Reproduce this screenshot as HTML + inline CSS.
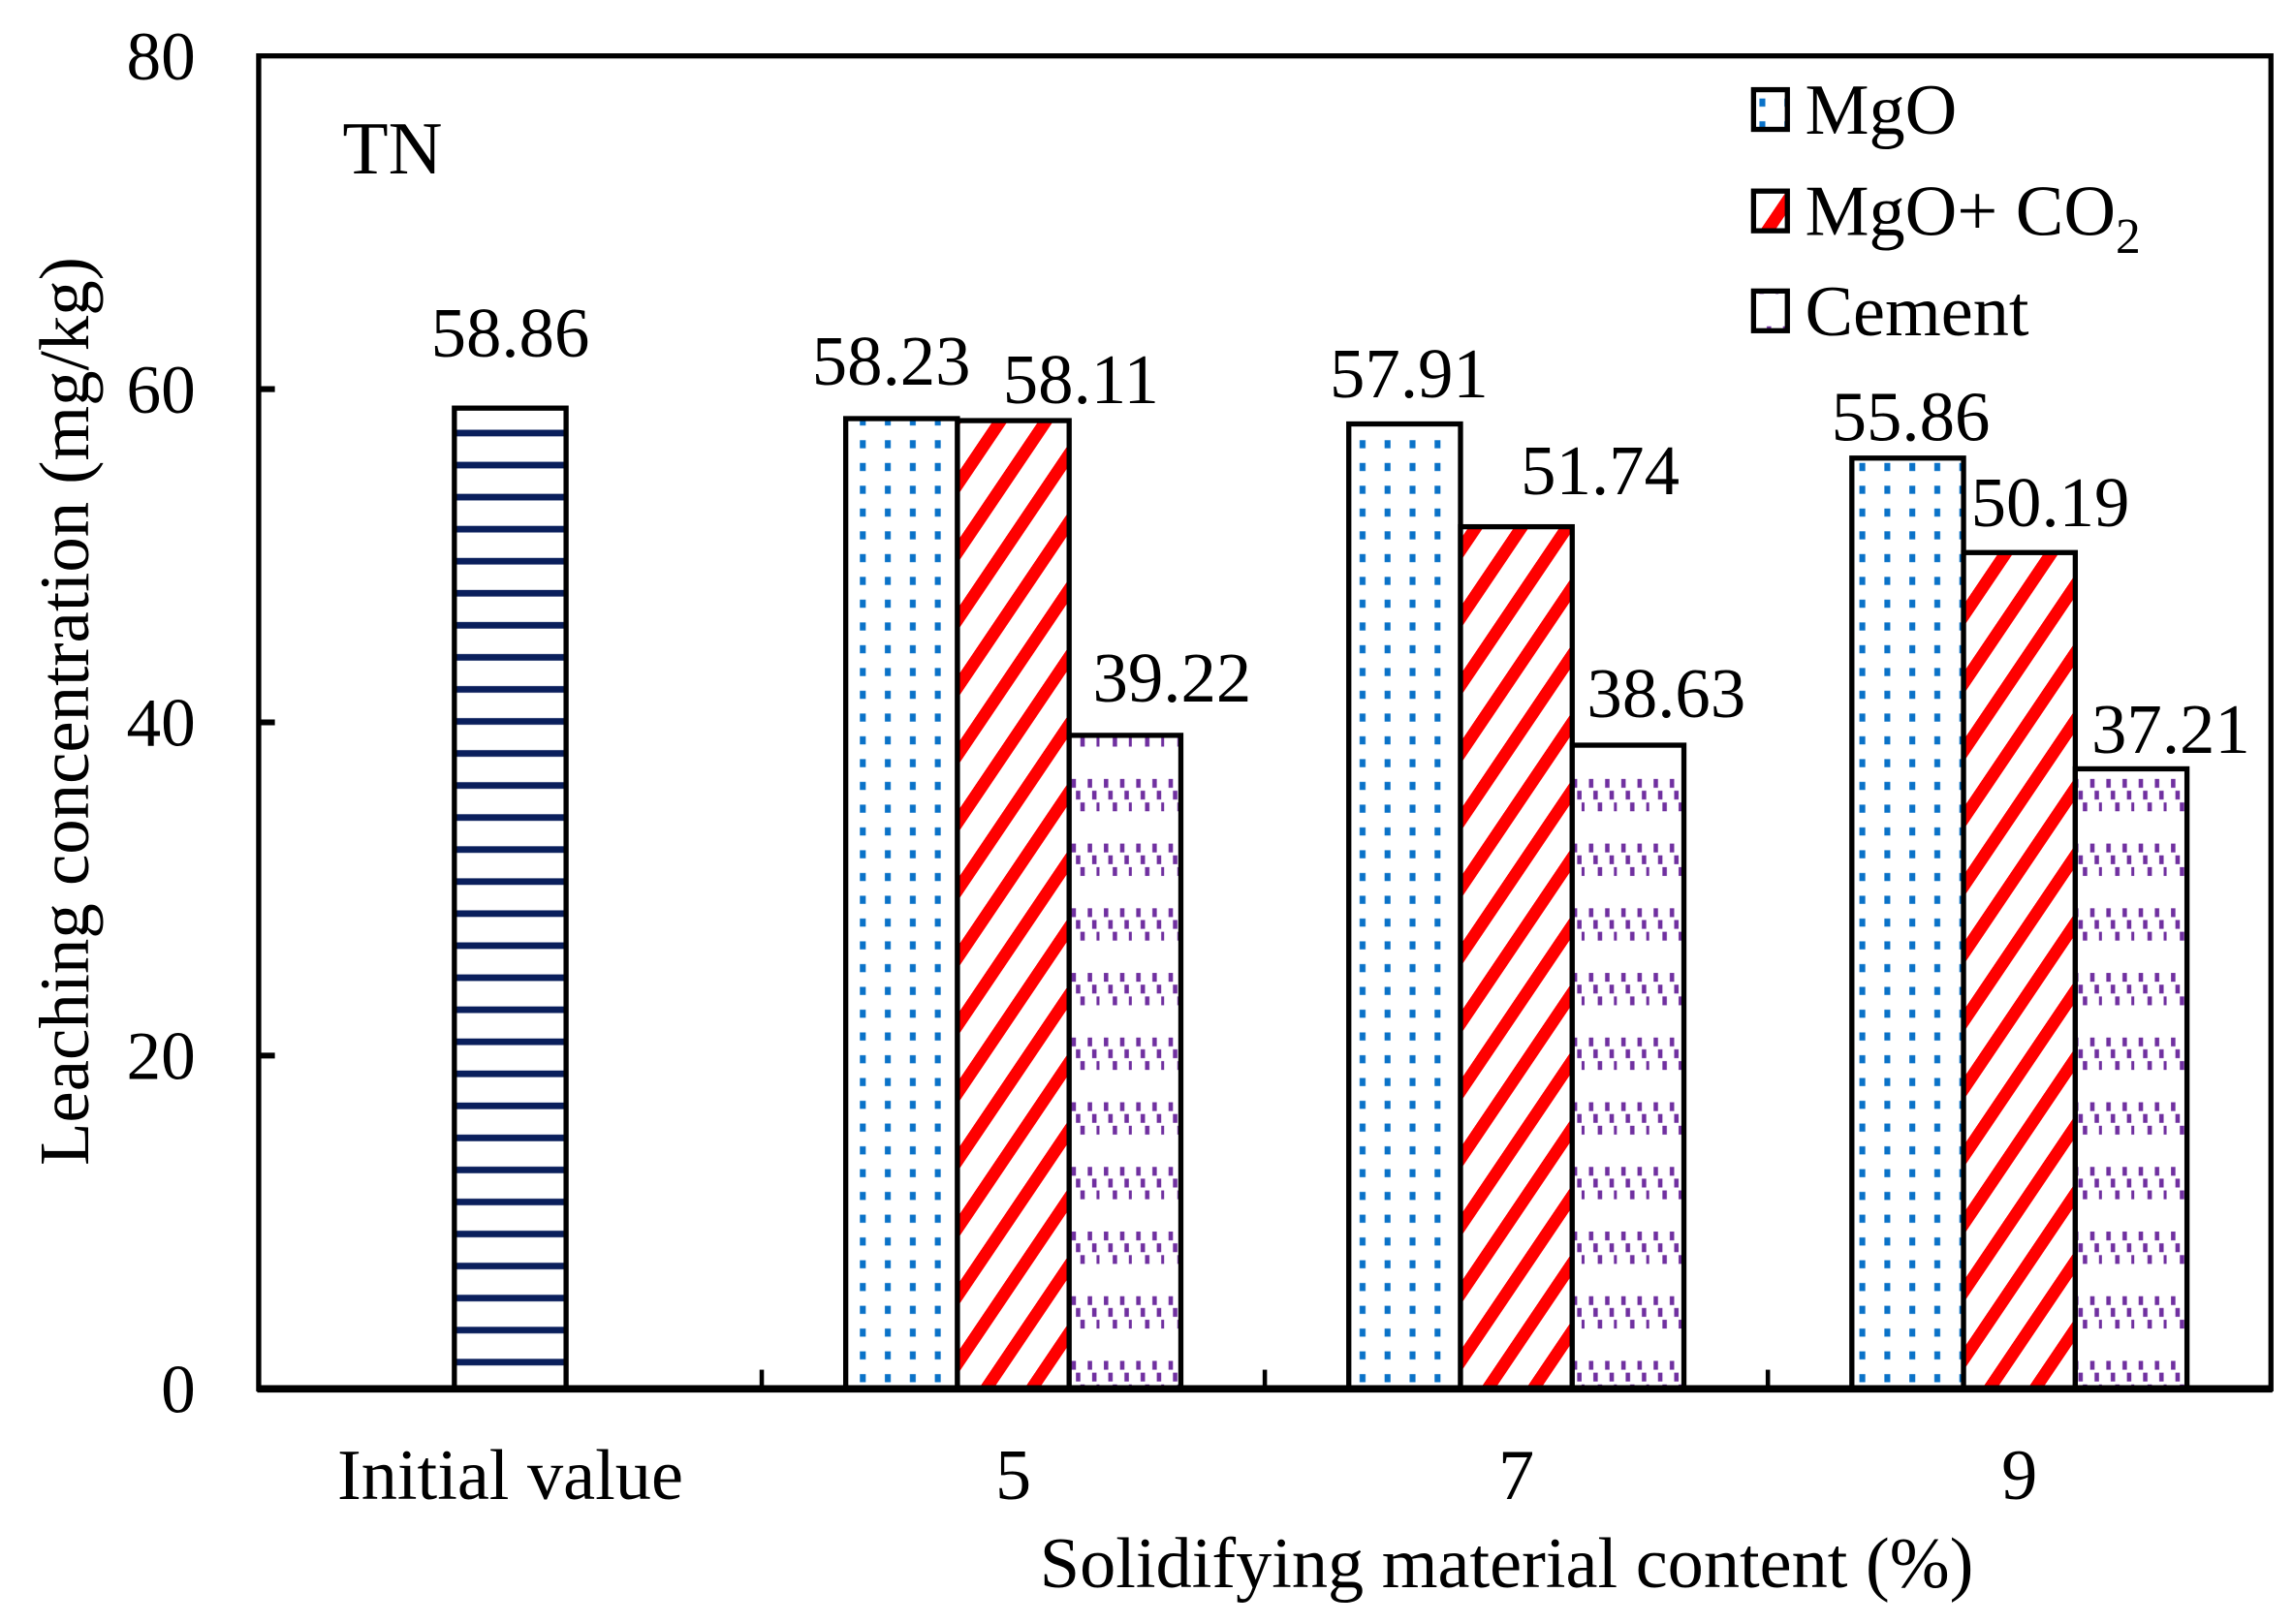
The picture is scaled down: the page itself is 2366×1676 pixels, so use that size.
<!DOCTYPE html>
<html><head><meta charset="utf-8"><style>
html,body{margin:0;padding:0;background:#fff}
svg{display:block}
text{font-family:"Liberation Serif",serif;fill:#000}
</style></head><body>
<svg id="chart" width="2366" height="1676" viewBox="0 0 1560 1105" xmlns="http://www.w3.org/2000/svg">
<defs>
<pattern id="p-init" patternUnits="userSpaceOnUse" width="20" height="21.8" y="0">
<rect width="20" height="21.8" fill="#fff"/><rect y="9" width="20" height="4.5" fill="#0a1f5c"/>
</pattern>
<pattern id="p-mgo" patternUnits="userSpaceOnUse" width="17" height="15.5" x="2">
<rect width="17" height="15.5" fill="#fff"/><rect x="5" y="5" width="4" height="5.5" fill="#0a72c8"/>
</pattern>
<pattern id="p-co2" patternUnits="userSpaceOnUse" width="40" height="46" patternTransform="skewY(-56)">
<rect width="40" height="46" fill="#fff"/><rect y="0" width="40" height="15" fill="#ff0000"/>
</pattern>
<pattern id="p-cem" patternUnits="userSpaceOnUse" width="22" height="44">
<rect width="22" height="44" fill="#fff"/>
<g fill="#7030a0">
<rect x="3" y="2" width="3" height="6"/><rect x="6" y="10" width="3" height="6"/><rect x="9" y="18" width="3" height="6"/>
<rect x="14" y="2" width="3" height="6"/><rect x="17" y="10" width="3" height="6"/><rect x="20" y="18" width="2" height="6"/>
</g>
</pattern>
</defs>
<g id="plot"></g>
</svg>
<script>
const categories = ["Initial value", "5", "7", "9"];
const initialValue = [58.86];
const mgoValues = [58.23, 57.91, 55.86];
const co2Values = [58.11, 51.74, 50.19];
const cementValues = [39.22, 38.63, 37.21];
const yTicks = [0, 20, 40, 60, 80];

const NS = "http://www.w3.org/2000/svg";
const L = 176, R = 1545, T = 38, B = 945;
const yMax = 80;
const catW = (R - L) / categories.length;
const barW = 76;
// label placement offsets (styling)
const labDx = {init:[0], mgo:[-7,3,2], co2:[46,57,21], cem:[32,26,27]};
const labGap = {init:[35], mgo:[23,18,12], co2:[12,22,18], cem:[23,19,11]};
function y(v){ return B - (v / yMax) * (B - T); }
function cx(i){ return L + catW * (i + 0.5); }
const g = document.getElementById('plot');
function mk(tag, attrs, parent){
  const e = document.createElementNS(NS, tag);
  for (const k in attrs) e.setAttribute(k, attrs[k]);
  (parent || g).appendChild(e);
  return e;
}
function label(x, yy, txt, size, anchor){
  const t = mk('text', {x: x, y: yy, 'font-size': size, 'text-anchor': anchor || 'middle'});
  t.textContent = txt;
  return t;
}
function bar(x, v, fill, name, dx, gap){
  const r = mk('rect', {x: x, y: y(v), width: barW, height: B - y(v), fill: fill, stroke: '#000', 'stroke-width': 3.5});
  
  
  const t = label(x + barW / 2 + dx, y(v) - gap, v.toFixed(2), 48);
  
  
}
bar(cx(0) - barW / 2, initialValue[0], 'url(#p-init)', 'bar-initial', labDx.init[0], labGap.init[0]);
for (let i = 0; i < 3; i++){
  const c = cx(i + 1);
  bar(c - 1.5 * barW, mgoValues[i], 'url(#p-mgo)', 'bar-mgo-' + categories[i + 1], labDx.mgo[i], labGap.mgo[i]);
  bar(c - 0.5 * barW, co2Values[i], 'url(#p-co2)', 'bar-mgo-co2-' + categories[i + 1], labDx.co2[i], labGap.co2[i]);
  bar(c + 0.5 * barW, cementValues[i], 'url(#p-cem)', 'bar-cement-' + categories[i + 1], labDx.cem[i], labGap.cem[i]);
}
const fr = mk('rect', {x: L, y: T, width: R - L, height: B - T, fill: 'none', stroke: '#000', 'stroke-width': 3.5});


const xa = mk('line', {x1: L - 1, x2: R + 1, y1: B, y2: B, stroke: '#000', 'stroke-width': 5});


yTicks.forEach(v => {
  if (v > 0 && v < yMax){
    const tk = mk('line', {x1: L, x2: L + 11, y1: y(v), y2: y(v), stroke: '#000', 'stroke-width': 4});
    
    
  }
  const t = label(133, y(v) + 16, String(v), 47, 'end');
  
  
});
categories.forEach((c, i) => {
  if (i > 0){
    const x = L + catW * i;
    const tk = mk('line', {x1: x, x2: x, y1: B, y2: B - 13, stroke: '#000', 'stroke-width': 3});
    
    
  }
  const t = label(cx(i), 1020, c, 49);
  
  
});
</script>
<svg style="position:absolute;left:0;top:0" width="2366" height="1676" viewBox="0 0 1560 1105" xmlns="http://www.w3.org/2000/svg">
<text x="1025" y="1080" font-size="49" text-anchor="middle">Solidifying material content (%)</text>
<text transform="translate(60,484) rotate(-90)" font-size="48" text-anchor="middle">Leaching concentration (mg/kg)</text>
<text x="233" y="118" font-size="51">TN</text>
<g>
<g>
<rect x="1193" y="61" width="23" height="27" fill="url(#p-mgo)" stroke="#000" stroke-width="3.5"/>
<text x="1228" y="91" font-size="49">MgO</text></g>
<g>
<rect x="1193" y="130" width="23" height="27" fill="url(#p-co2)" stroke="#000" stroke-width="3.5"/>
<text x="1228" y="160" font-size="49">MgO+ CO<tspan font-size="34" dy="12">2</tspan></text></g>
<g>
<rect x="1193" y="198" width="23" height="27" fill="url(#p-cem)" stroke="#000" stroke-width="3.5"/>
<text x="1228" y="228" font-size="49">Cement</text></g>
</g>
</svg>
</body></html>
